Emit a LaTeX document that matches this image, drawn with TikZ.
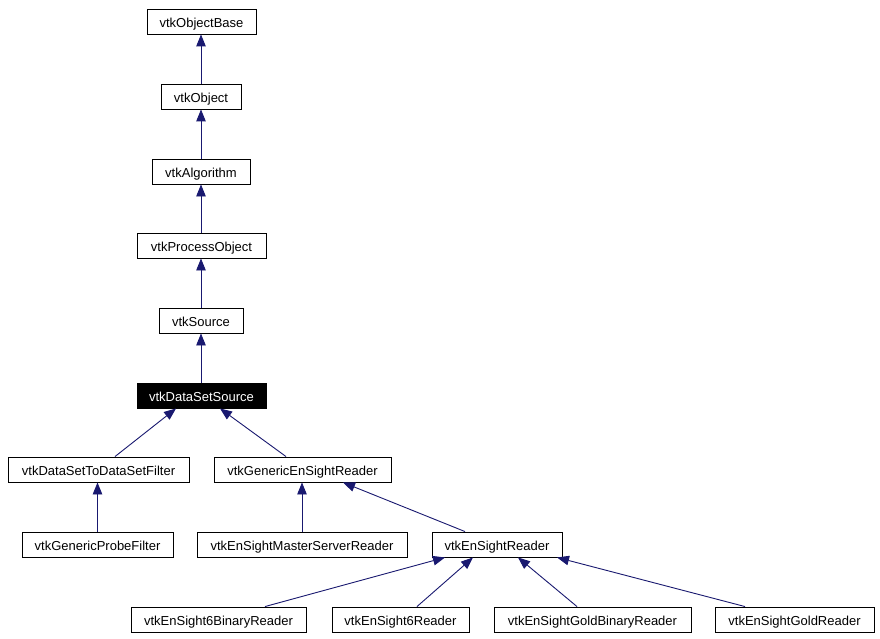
\documentclass[tikz,border=0pt]{standalone}
\usepackage{fontspec}
\setmainfont{Liberation Sans}
\usetikzlibrary{arrows.meta}
\definecolor{edgeblue}{RGB}{25,25,112}
\tikzset{
  cls/.style={draw=black, line width=0.9pt, fill=white, minimum height=25pt, inner sep=0pt,
    text height=12pt, text depth=0pt,
    font=\fontsize{13}{15}\selectfont, anchor=center},
  cur/.style={cls, fill=black, text=white},
  inh/.style={draw=edgeblue, line width=0.9pt, -{Triangle[length=12pt,width=9.5pt]}}
}
\begin{document}
\begin{tikzpicture}[x=1pt,y=-1pt]
\useasboundingbox (0,0) rectangle (880,639);
\fill[white] (0,0) rectangle (880,639);
% nodes
\node[cls, minimum width=109pt] (ob)  at (201.5,21.5)  {vtkObjectBase};
\node[cls, minimum width=80pt]  (o)   at (201,96.5)    {vtkObject};
\node[cls, minimum width=98pt]  (alg) at (201,171.5)   {vtkAlgorithm};
\node[cls, minimum width=129pt] (po)  at (201.5,245.5) {vtkProcessObject};
\node[cls, minimum width=84pt]  (src) at (201,320.5)   {vtkSource};
\node[cur, minimum width=129pt] (dss) at (201.5,395.5) {vtkDataSetSource};
\node[cls, minimum width=181pt] (dsf) at (98.5,469.5)  {vtkDataSetToDataSetFilter};
\node[cls, minimum width=177pt] (gen) at (302.5,469.5) {vtkGenericEnSightReader};
\node[cls, minimum width=151pt] (gpf) at (97.5,544.5)  {vtkGenericProbeFilter};
\node[cls, minimum width=210pt] (msr) at (302,544.5)   {vtkEnSightMasterServerReader};
\node[cls, minimum width=130pt] (er)  at (497,544.5)   {vtkEnSightReader};
\node[cls, minimum width=175pt] (e6b) at (218.5,619.5) {vtkEnSight6BinaryReader};
\node[cls, minimum width=137pt] (e6)  at (400.5,619.5) {vtkEnSight6Reader};
\node[cls, minimum width=197pt] (egb) at (592.5,619.5) {vtkEnSightGoldBinaryReader};
\node[cls, minimum width=159pt] (eg)  at (794.5,619.5) {vtkEnSightGoldReader};
% edges
\draw[inh] (o.north) -- (ob.south -| o.north);
\draw[inh] (alg.north) -- (o.south -| alg.north);
\draw[inh] (po.north -| alg.north) -- (alg.south);
\draw[inh] (src.north) -- (po.south -| src.north);
\draw[inh] (dss.north -| src.north) -- (src.south);
\draw[inh] ([xshift=16.5pt]dsf.north) -- ([xshift=-25.5pt]dss.south);
\draw[inh] ([xshift=-16.5pt]gen.north) -- ([xshift=18.5pt]dss.south);
\draw[inh] (gpf.north) -- (dsf.south -| gpf.north);
\draw[inh] (msr.north) -- (gen.south -| msr.north);
\draw[inh] ([xshift=-32pt]er.north) -- ([xshift=40.5pt]gen.south);
\draw[inh] ([xshift=46.5pt]e6b.north) -- ([xshift=-52pt]er.south);
\draw[inh] ([xshift=16.5pt]e6.north) -- ([xshift=-24pt]er.south);
\draw[inh] ([xshift=-15.5pt]egb.north) -- ([xshift=21pt]er.south);
\draw[inh] ([xshift=-49.5pt]eg.north) -- ([xshift=60pt]er.south);
\end{tikzpicture}
\end{document}
